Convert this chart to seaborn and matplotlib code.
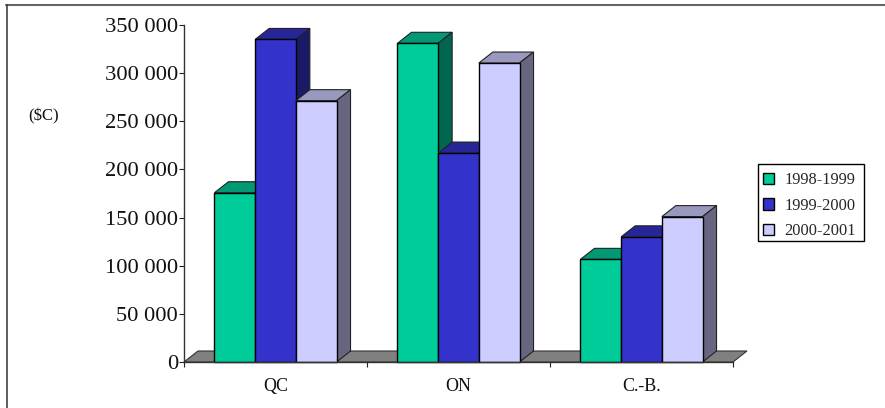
import pandas as pd
import seaborn as sns
import matplotlib
matplotlib.use('Agg')
import matplotlib.pyplot as plt
from matplotlib.lines import Line2D
from matplotlib.patches import Polygon, Rectangle

regions = ['QC', 'ON', 'C.-B.']
periods = ['1998-1999', '1999-2000', '2000-2001']
values_1998 = [175800, 331000, 106600]
values_1999 = [335000, 217000, 130000]
values_2000 = [271400, 310500, 151000]
yticks = [0, 50000, 100000, 150000, 200000, 250000, 300000, 350000]
ytick_labels = ['0', '50 000', '100 000', '150 000', '200 000', '250 000', '300 000', '350 000']
colors = ['#00CC99', '#3333CC', '#CCCCFF']
top_colors = ['#009973', '#262699', '#9999BF']
side_colors = ['#006650', '#1A1A66', '#666680']

W, H = 885, 408
df = pd.DataFrame({
    'region': regions * 3,
    'period': [p for p in periods for _ in regions],
    'value': values_1998 + values_1999 + values_2000,
})

sns.set_theme(style='white')
plt.rcParams['font.family'] = ['Liberation Serif', 'DejaVu Serif']

fig = plt.figure(figsize=(W / 100, H / 100), dpi=100)
ax = fig.add_axes([184 / W, 1 - 362 / H, 549 / W, 337 / H])
sns.barplot(data=df, x='region', y='value', hue='period', order=regions, hue_order=periods,
            palette=colors, width=0.667, gap=0, saturation=1, edgecolor='black', linewidth=1,
            legend=False, ax=ax)
ax.set_xlim(-0.5, 2.5)
ax.set_ylim(0, 350000)

# fake 3D depth, 14px right and 11px up
dx = 14 / 183
dy = 11 / 337 * 350000

floor = Polygon([(-0.5, 0), (2.5, 0), (2.5 + dx, dy), (-0.5 + dx, dy)], closed=True,
                facecolor='#808080', edgecolor='#333333', linewidth=0.8, clip_on=False, zorder=1)
ax.add_patch(floor)

bars = [b for b in ax.patches if isinstance(b, Rectangle)]
for i, bar in enumerate(bars):
    hue_idx = i // len(regions)
    cat_idx = i % len(regions)
    x0, x1, h = bar.get_x(), bar.get_x() + bar.get_width(), bar.get_height()
    z = 2 + cat_idx * 10 + hue_idx
    ax.add_patch(Polygon([(x0, h), (x1, h), (x1 + dx, h + dy), (x0 + dx, h + dy)], closed=True,
                         facecolor=top_colors[hue_idx], edgecolor='#222222', linewidth=0.8,
                         clip_on=False, zorder=z))
    ax.add_patch(Polygon([(x1, 0), (x1 + dx, dy), (x1 + dx, h + dy), (x1, h)], closed=True,
                         facecolor=side_colors[hue_idx], edgecolor='#222222', linewidth=0.8,
                         clip_on=False, zorder=z))
    bar.set_zorder(z + 0.5)
    bar.set_clip_on(False)

ax.set_xlabel('')
ax.set_ylabel('')
ax.set_yticks(yticks)
ax.set_yticklabels(ytick_labels, fontsize=16.2, color='#111111')
ax.set_xticks(range(len(regions)))
ax.set_xticklabels(regions, fontsize=13, color='#111111')
ax.set_xticks([-0.5, 0.5, 1.5, 2.5], minor=True)
ax.tick_params(axis='x', which='major', length=0, pad=11.7)
ax.tick_params(axis='x', which='minor', length=3.6, width=0.8, color='#222222', bottom=True)
ax.tick_params(axis='y', length=3.6, width=0.8, color='#222222', left=True, pad=0.8)
for name in ['top', 'right']:
    ax.spines[name].set_visible(False)
for name in ['left', 'bottom']:
    ax.spines[name].set_color('#333333')
    ax.spines[name].set_linewidth(1)
    ax.spines[name].set_zorder(50)
ax.patch.set_alpha(0)

fig.text(43.5 / W, 1 - 116 / H, '($C)', fontsize=12, ha='center', va='center', color='#111111')

# legend box is separate: the rows sit lower in it than matplotlib would centre them
fig.add_artist(Rectangle((758 / W, 1 - 241 / H), 106 / W, 77 / H, transform=fig.transFigure,
                         facecolor='white', edgecolor='black', linewidth=1))
handles = [Rectangle((0, 0), 1, 1, facecolor=c, edgecolor='black', linewidth=1) for c in colors]
leg = fig.legend(handles, periods, loc='upper left', bbox_to_anchor=(758 / W, 1 - 167 / H),
                 bbox_transform=fig.transFigure, fontsize=11.8, frameon=False, borderaxespad=0,
                 borderpad=0.32, handlelength=0.68, handleheight=0.68, handletextpad=0.62,
                 labelspacing=0.58)

# only the top and left sides of the outer frame show
fig.add_artist(Line2D([6 / W, 1], [1 - 5 / H, 1 - 5 / H], transform=fig.transFigure,
                      color='#666666', linewidth=1.5))
fig.add_artist(Line2D([6.7 / W, 6.7 / W], [0, 1 - 5 / H], transform=fig.transFigure,
                      color='#333333', linewidth=1.1))

fig.savefig('out.png', dpi=100)
